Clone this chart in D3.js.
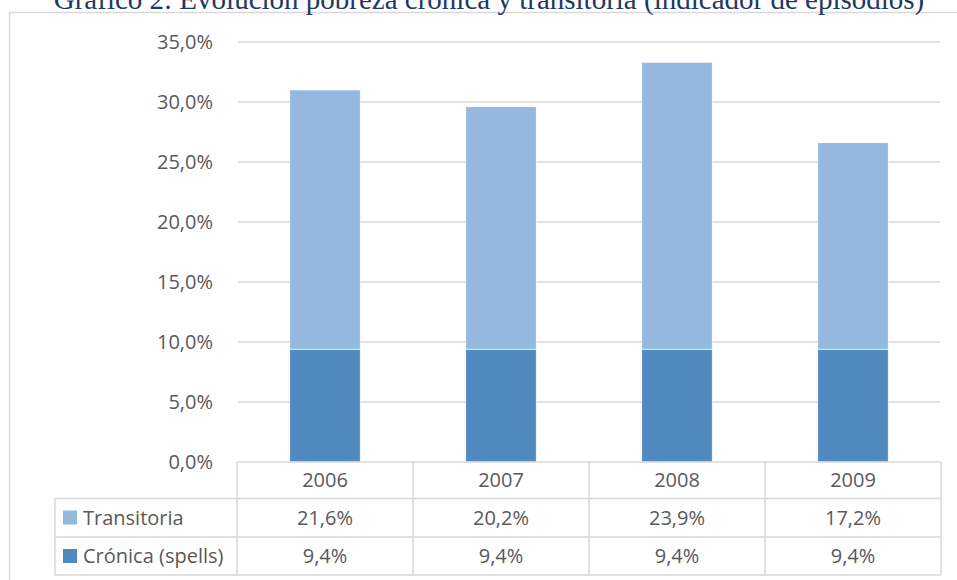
<!DOCTYPE html>
<html>
<head>
<meta charset="utf-8">
<script src="https://cdn.jsdelivr.net/npm/d3@7"></script>
<style>
  body { margin: 0; background: #fff; }
  svg { display: block; }
</style>
</head>
<body>
<div id="chart"></div>
<script>
// Données
const annees = ["2006", "2007", "2008", "2009"];
const transitoria = [21.6, 20.2, 23.9, 17.2];
const cronica = [9.4, 9.4, 9.4, 9.4];
const series = ["Transitoria", "Crónica (spells)"];
const couleurs = ["#95b8df", "#4f89bd"];
const ticksY = [0, 5, 10, 15, 20, 25, 30, 35];

const W = 957, H = 580;
const gris = "#d9d9d9", texte = "#595959";
const police = "'Open Sans', sans-serif";

const svg = d3.select("#chart").append("svg")
    .attr("width", W)
    .attr("height", H);

// cadre du graphique
svg.append("rect")
    .attr("x", 9.5).attr("y", 12.5)
    .attr("width", 960).attr("height", 600)
    .attr("fill", "none")
    .attr("stroke", gris)
    .attr("stroke-width", 1.5);

// titre (coupé en haut)
svg.append("text")
    .attr("x", 489).attr("y", 9)
    .attr("text-anchor", "middle")
    .attr("font-family", "'Liberation Serif', 'Times New Roman', serif")
    .attr("font-size", 29)
    .attr("fill", "#1f3864")
    .text("Gráfico 2: Evolución pobreza crónica y transitoria (indicador de episodios)");

const x = d3.scaleBand()
    .domain(annees)
    .range([237, 941])
    .paddingInner(0.6)
    .paddingOuter(0.3);

const y = d3.scaleLinear()
    .domain([0, 35])
    .range([462, 42]);

// grille
svg.append("g").selectAll("line")
    .data(ticksY.filter(d => d > 0))
    .enter()
    .append("line")
    .attr("x1", 238).attr("x2", 940)
    .attr("y1", d => y(d)).attr("y2", d => y(d))
    .attr("stroke", gris)
    .attr("stroke-width", 1.3);

// axe Y
const axeY = d3.axisLeft(y)
    .tickValues(ticksY)
    .tickSize(0)
    .tickPadding(0)
    .tickFormat(d => d3.format(".1f")(d).replace(".", ",") + "%");

const gAxe = svg.append("g")
    .attr("transform", "translate(213,0)")
    .call(axeY);
gAxe.select(".domain").remove();
gAxe.selectAll("text")
    .attr("font-family", police)
    .attr("font-size", 20)
    .attr("fill", texte);

// barres empilées
const tabEmpile = annees.map((a, i) => ({ annee: a, cronica: cronica[i], transitoria: transitoria[i] }));
const pile = d3.stack().keys(["cronica", "transitoria"])(tabEmpile);
const couleurCle = { cronica: couleurs[1], transitoria: couleurs[0] };

svg.append("g").selectAll("g")
    .data(pile)
    .enter()
    .append("g")
    .attr("fill", d => couleurCle[d.key])
    .selectAll("rect")
    .data(d => d)
    .enter()
    .append("rect")
    .attr("x", d => x(d.data.annee))
    .attr("width", x.bandwidth())
    .attr("y", d => y(d[1]))
    .attr("height", d => y(d[0]) - y(d[1]))
    .attr("stroke", "#ffffff")
    .attr("stroke-width", 0.6);

// tableau de données
const pas = x.step();
const decal = (pas - x.bandwidth()) / 2;
const colGauche = d => x(d) - decal;
const lignesY = [462, 498.5, 537, 575];
const tab = svg.append("g");

tab.append("line")
    .attr("x1", 237).attr("x2", 941)
    .attr("y1", lignesY[0]).attr("y2", lignesY[0]);
[1, 2, 3].forEach(i => {
    tab.append("line")
        .attr("x1", 55).attr("x2", 941)
        .attr("y1", lignesY[i]).attr("y2", lignesY[i]);
});
tab.append("line")
    .attr("x1", 55).attr("x2", 55)
    .attr("y1", lignesY[1]).attr("y2", lignesY[3]);
annees.concat(["fin"]).forEach((a, i) => {
    const xx = a === "fin" ? 941 : colGauche(a);
    tab.append("line")
        .attr("x1", xx).attr("x2", xx)
        .attr("y1", lignesY[0]).attr("y2", lignesY[3]);
});
tab.selectAll("line")
    .attr("stroke", gris)
    .attr("stroke-width", 1.5);

const fmt = v => d3.format(".1f")(v).replace(".", ",") + "%";
const lignesTexte = [
    { vals: annees, yc: 480 },
    { vals: transitoria.map(fmt), yc: 517.5 },
    { vals: cronica.map(fmt), yc: 556 }
];
lignesTexte.forEach(l => {
    tab.append("g").selectAll("text")
        .data(l.vals)
        .enter()
        .append("text")
        .attr("x", (d, i) => x(annees[i]) + x.bandwidth() / 2)
        .attr("y", l.yc)
        .attr("dy", "0.35em")
        .attr("text-anchor", "middle")
        .attr("font-family", police)
        .attr("font-size", 20)
        .attr("fill", texte)
        .text(d => d);
});

// légende dans le tableau
series.forEach((s, i) => {
    const yc = lignesTexte[i + 1].yc;
    tab.append("rect")
        .attr("x", 63).attr("y", yc - 7)
        .attr("width", 14).attr("height", 14)
        .attr("fill", couleurs[i]);
    tab.append("text")
        .attr("x", 83).attr("y", yc)
        .attr("dy", "0.35em")
        .attr("font-family", police)
        .attr("font-size", 20)
        .attr("fill", texte)
        .text(s);
});
</script>
</body>
</html>
